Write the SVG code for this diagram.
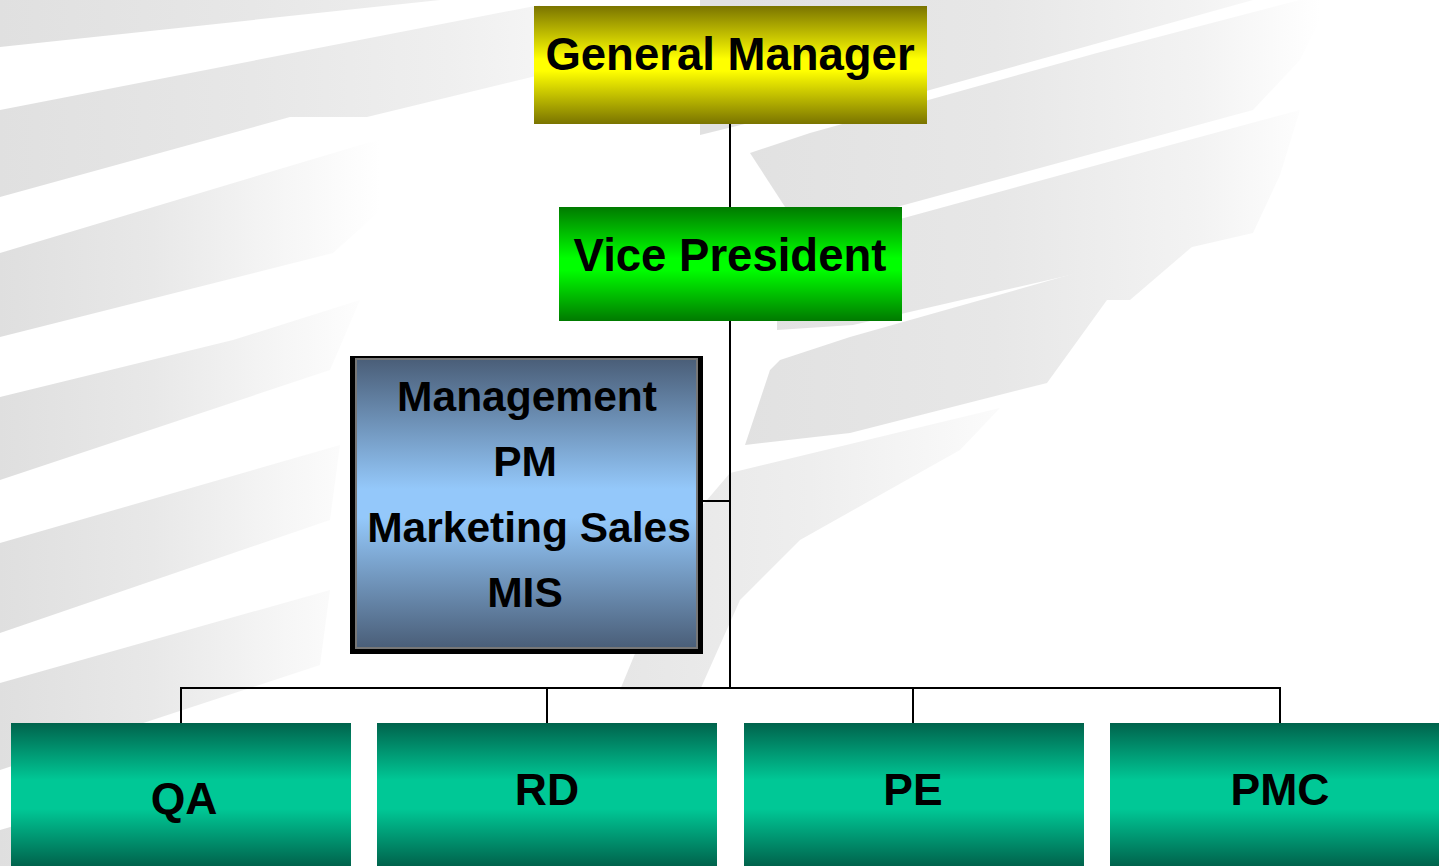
<svg xmlns="http://www.w3.org/2000/svg" width="1439" height="866" viewBox="0 0 1439 866">
<defs>
<linearGradient id="gL" x1="0" y1="0" x2="560" y2="0" gradientUnits="userSpaceOnUse">
<stop offset="0" stop-color="#e0e0e0"/>
<stop offset="0.45" stop-color="#e7e7e7"/>
<stop offset="0.8" stop-color="#efefef"/>
<stop offset="1" stop-color="#f6f6f6"/>
</linearGradient>
<linearGradient id="gL2" x1="0" y1="0" x2="380" y2="0" gradientUnits="userSpaceOnUse">
<stop offset="0" stop-color="#dfdfdf"/>
<stop offset="0.4" stop-color="#e8e8e8"/>
<stop offset="0.75" stop-color="#f6f6f6"/>
<stop offset="1" stop-color="#ffffff"/>
</linearGradient>
<linearGradient id="gR" x1="730" y1="0" x2="1320" y2="0" gradientUnits="userSpaceOnUse">
<stop offset="0" stop-color="#e1e1e1"/>
<stop offset="0.45" stop-color="#e7e7e7"/>
<stop offset="0.8" stop-color="#f3f3f3"/>
<stop offset="1" stop-color="#ffffff"/>
</linearGradient>
<linearGradient id="gR4" x1="620" y1="0" x2="1000" y2="0" gradientUnits="userSpaceOnUse">
<stop offset="0" stop-color="#e6e6e6"/>
<stop offset="0.5" stop-color="#eeeeee"/>
<stop offset="1" stop-color="#fbfbfb"/>
</linearGradient>
<linearGradient id="gYellow" x1="0" y1="0" x2="0" y2="1">
<stop offset="0" stop-color="#7a7400"/>
<stop offset="0.45" stop-color="#ffff00"/>
<stop offset="0.55" stop-color="#ffff00"/>
<stop offset="1" stop-color="#7a7400"/>
</linearGradient>
<linearGradient id="gGreen" x1="0" y1="0" x2="0" y2="1">
<stop offset="0" stop-color="#007a00"/>
<stop offset="0.45" stop-color="#00ff00"/>
<stop offset="0.55" stop-color="#00ff00"/>
<stop offset="1" stop-color="#007a00"/>
</linearGradient>
<linearGradient id="gBlue" x1="0" y1="0" x2="0" y2="1">
<stop offset="0" stop-color="#4a5e78"/>
<stop offset="0.45" stop-color="#94c8fa"/>
<stop offset="0.55" stop-color="#94c8fa"/>
<stop offset="1" stop-color="#4a5e78"/>
</linearGradient>
<linearGradient id="gTeal" x1="0" y1="0" x2="0" y2="1">
<stop offset="0" stop-color="#00634c"/>
<stop offset="0.4" stop-color="#00c896"/>
<stop offset="0.6" stop-color="#00c896"/>
<stop offset="1" stop-color="#00634c"/>
</linearGradient>
<style>
text{font-family:"Liberation Sans",Arial,sans-serif;font-weight:bold;fill:#000;text-anchor:middle}
.big{font-size:45.5px}
.mid{font-size:42.5px}
.bot{font-size:44.5px}
.wire{stroke:#000;stroke-width:2;fill:none}
</style>
</defs>
<rect width="1439" height="866" fill="#ffffff"/>
<g id="background">
<g fill="url(#gL)">
<polygon points="0,0 440,0 0,47"/>
<polygon points="0,110 540,5 540,75 367,117 290,117 0,197"/>
</g>
<g fill="url(#gL2)">
<polygon points="0,253 300,163 367,143 440,125 420,175 333,253 0,337"/>
<polygon points="0,397 233,340 360,300 330,370 0,480"/>
<polygon points="0,543 340,445 330,520 0,633"/>
<polygon points="0,683 330,590 320,665 0,770"/>
<polygon points="0,830 260,755 250,866 0,866"/>
</g>
<g fill="url(#gR)">
<polygon points="700,0 1253,0 883,103 810,108 700,135"/>
<polygon points="750,153 810,133 1097,53 1300,0 1330,0 1300,60 1253,110 860,217 800,230"/>
<polygon points="777,250 860,230 1163,147 1300,110 1280,175 1253,233 853,325 777,330"/>
<polygon points="780,360 850,337 1097,267 1200,240 1130,300 1107,300 1047,383 850,433 745,445 770,370"/>
</g>
<polygon fill="url(#gR4)" points="730,473 1000,408 960,450 800,540 740,600 700,690 620,690 690,520"/>
</g>
<g id="connectors" class="wire">
<line x1="730" y1="124" x2="730" y2="207"/>
<line x1="730" y1="321" x2="730" y2="688"/>
<line x1="703" y1="501" x2="730" y2="501"/>
<polyline points="181,723 181,688 1280,688 1280,723"/>
<line x1="547" y1="688" x2="547" y2="723"/>
<line x1="913" y1="688" x2="913" y2="723"/>
</g>
<g id="general-manager">
<rect x="534" y="6" width="393" height="118" fill="url(#gYellow)"/>
<text class="big" x="730" y="70">General Manager</text>
</g>
<g id="vice-president">
<rect x="559" y="207" width="343" height="114" fill="url(#gGreen)"/>
<text class="big" x="730" y="271">Vice President</text>
</g>
<g id="management">
<rect x="350" y="356" width="353" height="298" fill="#000"/>
<rect x="356" y="359" width="341" height="289" fill="url(#gBlue)" stroke="#777" stroke-width="2"/>
<text class="mid" x="527" y="411">Management</text>
<text class="mid" x="525" y="476">PM</text>
<text class="mid" x="529" y="542">Marketing Sales</text>
<text class="mid" x="525" y="607">MIS</text>
</g>
<g id="qa">
<rect x="11" y="723" width="340" height="143" fill="url(#gTeal)"/>
<text class="bot" x="184" y="814">QA</text>
</g>
<g id="rd">
<rect x="377" y="723" width="340" height="143" fill="url(#gTeal)"/>
<text class="bot" x="547" y="805">RD</text>
</g>
<g id="pe">
<rect x="744" y="723" width="340" height="143" fill="url(#gTeal)"/>
<text class="bot" x="913" y="805">PE</text>
</g>
<g id="pmc">
<rect x="1110" y="723" width="329" height="143" fill="url(#gTeal)"/>
<text class="bot" x="1280" y="805">PMC</text>
</g>
</svg>
